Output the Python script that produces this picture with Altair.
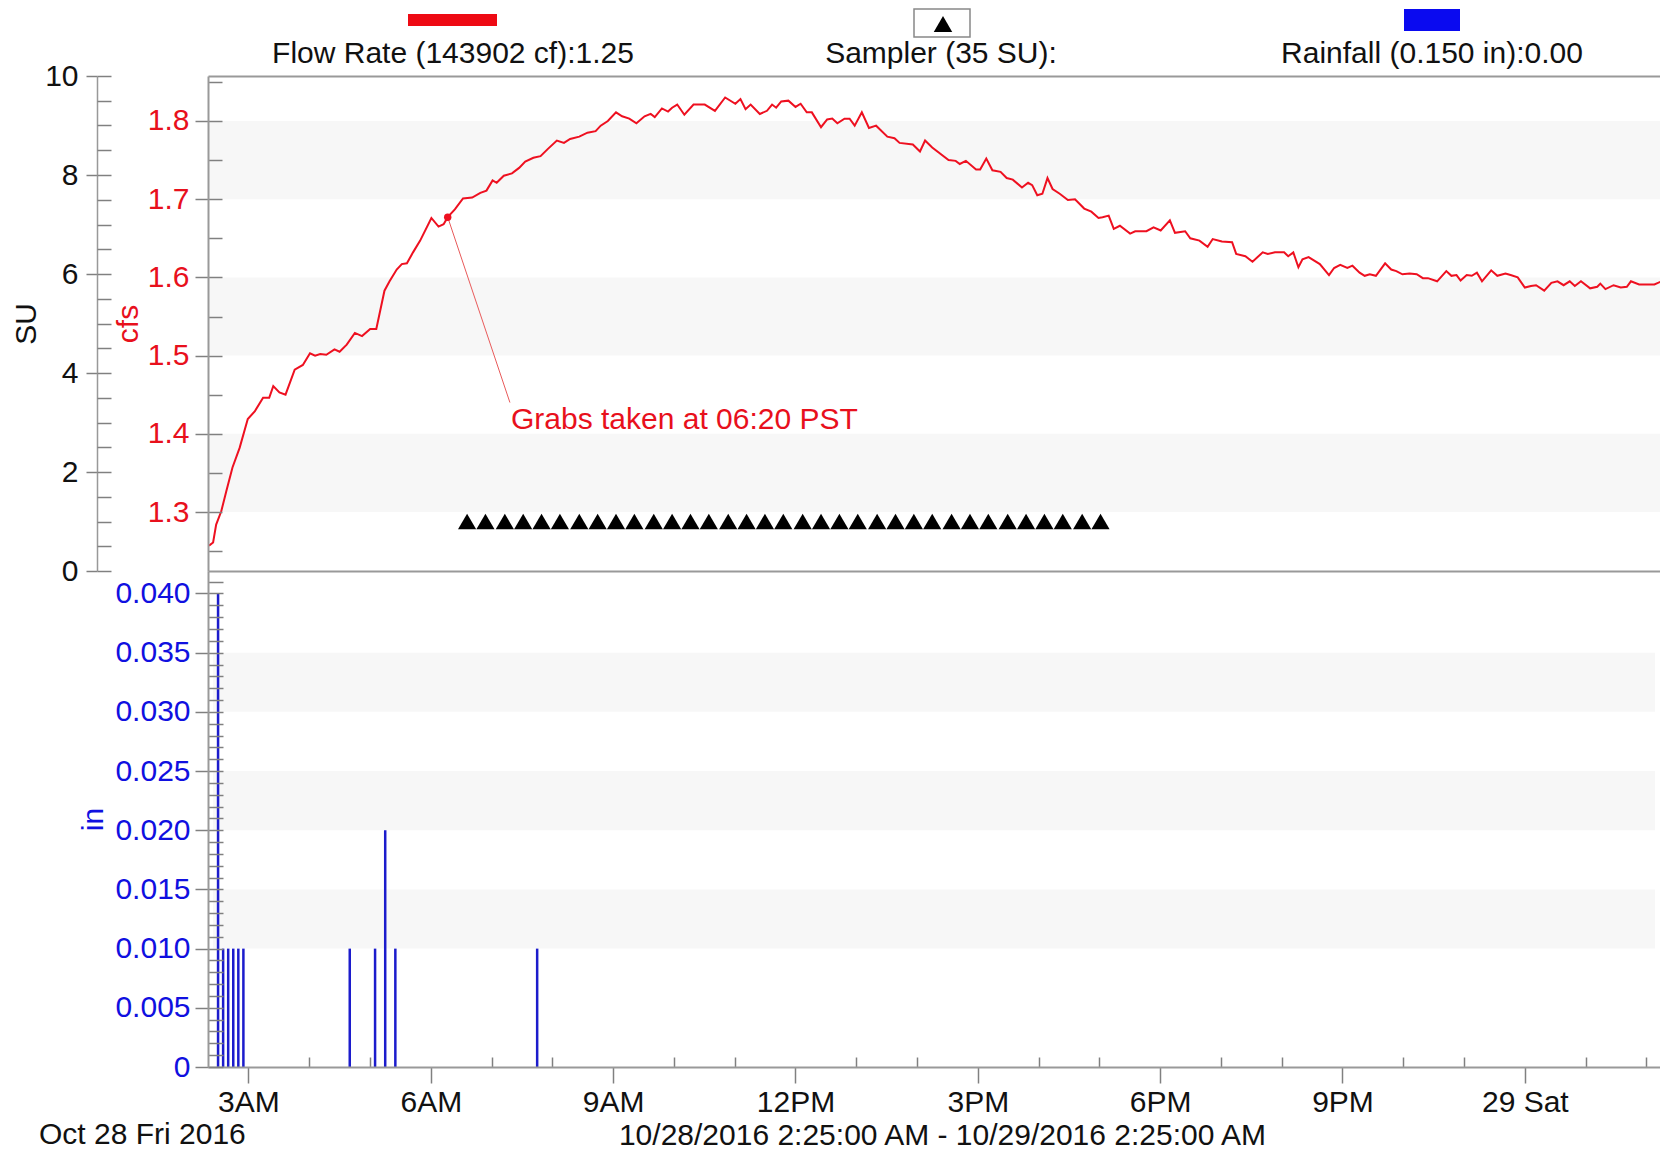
import altair as alt
import pandas as pd

# ---------------- data ----------------
start_time = "2016-10-28 02:25"
end_time = "2016-10-29 02:25"
view_end = "2016-10-29 02:08:30"  # right edge of the visible plot area

# flow rate: minutes after 02:25 and value in cfs
flow_minutes = [1, 5, 8, 13, 18, 24, 31, 39, 46, 54, 60, 64, 70, 76, 85, 93, 100, 105, 110, 116,
                124, 129, 136, 144, 151, 159, 165, 173, 178, 185, 190, 195, 201, 208, 219, 226, 231, 235, 242, 250,
                259, 267, 273, 279, 283, 290, 298, 305, 311, 319, 326, 333, 342, 349, 355, 364, 372, 380,
                385, 392, 400, 406, 413, 420, 428, 434, 438, 445, 451, 455, 460, 467, 476, 487, 497, 507,
                517, 522, 527, 532, 541, 548, 553, 557, 562, 569, 576, 581, 587, 592, 601, 607, 612, 617,
                624, 629, 634, 641, 648, 655, 666, 673, 678, 691, 698, 703, 710, 726, 733, 737, 743, 753,
                757, 763, 769, 777, 783, 789, 798, 804, 808, 813, 818, 823, 828, 835, 843, 850, 859, 866, 873,
                877, 883, 888, 894, 904, 909, 920, 927, 934, 943, 948, 958, 963, 972, 980, 985, 994, 1004,
                1008, 1017, 1024, 1034, 1039, 1046, 1055, 1059, 1064, 1069, 1073, 1079, 1090, 1099, 1104,
                1110, 1117, 1122, 1129, 1134, 1139, 1145, 1154, 1160, 1165, 1171, 1178, 1185, 1191, 1196,
                1205, 1214, 1219, 1224, 1228, 1234, 1239, 1244, 1249, 1258, 1264, 1272, 1277, 1284, 1291,
                1297, 1302, 1310, 1317, 1323, 1329, 1335, 1340, 1346, 1355, 1362, 1365, 1370, 1378, 1385,
                1391, 1395, 1403, 1418, 1425, 1432, 1438, 1440]
flow_cfs = [1.257, 1.261, 1.284, 1.301, 1.327, 1.357, 1.382, 1.419, 1.429, 1.446, 1.446, 1.461, 1.453, 1.450,
            1.482, 1.488, 1.503, 1.500, 1.502, 1.501, 1.508, 1.505, 1.514, 1.529, 1.525, 1.534, 1.534, 1.583,
            1.595, 1.610, 1.617, 1.618, 1.632, 1.647, 1.676, 1.665, 1.668, 1.677, 1.687, 1.701, 1.702, 1.708,
            1.711, 1.724, 1.721, 1.730, 1.733, 1.740, 1.748, 1.753, 1.755, 1.764, 1.775, 1.772, 1.777, 1.780,
            1.785, 1.787,
            1.794, 1.800, 1.811, 1.806, 1.803, 1.797, 1.806, 1.809, 1.805, 1.816, 1.812, 1.817, 1.821, 1.808,
            1.821, 1.821, 1.813, 1.830, 1.822, 1.828, 1.815, 1.821, 1.809, 1.813, 1.821, 1.817, 1.825, 1.826,
            1.818, 1.822, 1.811, 1.811, 1.792, 1.802, 1.803, 1.797, 1.803, 1.803, 1.794, 1.811, 1.791, 1.794,
            1.780, 1.778, 1.772, 1.770, 1.761, 1.775, 1.766, 1.750, 1.749, 1.745, 1.749, 1.738, 1.738, 1.752,
            1.737, 1.735, 1.727, 1.725, 1.715, 1.721, 1.718, 1.705, 1.707, 1.727, 1.713, 1.707, 1.699, 1.700,
            1.688, 1.684, 1.676,
            1.677, 1.679, 1.662, 1.666, 1.656, 1.659, 1.659, 1.664, 1.660, 1.673, 1.657, 1.659, 1.650, 1.647,
            1.639, 1.649, 1.646, 1.645, 1.630, 1.627, 1.620, 1.632, 1.630, 1.632, 1.632, 1.627, 1.632, 1.613,
            1.623, 1.626, 1.617, 1.603, 1.612, 1.616, 1.612, 1.615, 1.606, 1.602, 1.604, 1.602, 1.618, 1.610,
            1.608, 1.604, 1.605, 1.604, 1.599, 1.599, 1.595, 1.608, 1.602, 1.603, 1.596, 1.603, 1.602, 1.606,
            1.595, 1.609, 1.602, 1.605, 1.603, 1.600, 1.587, 1.589, 1.590, 1.583, 1.593, 1.595, 1.590, 1.595,
            1.589, 1.595, 1.586, 1.588, 1.592, 1.585, 1.590, 1.587, 1.588, 1.595, 1.591, 1.591, 1.595, 1.587,
            1.588, 1.590]

rain_times = ["2016-10-28 02:30", "2016-10-28 02:35", "2016-10-28 02:40", "2016-10-28 02:45",
              "2016-10-28 02:50", "2016-10-28 02:55", "2016-10-28 04:40", "2016-10-28 05:05",
              "2016-10-28 05:15", "2016-10-28 05:25", "2016-10-28 07:45"]
rain_inches = [0.040, 0.010, 0.010, 0.010, 0.010, 0.010, 0.010, 0.010, 0.020, 0.010, 0.010]

sampler_clock = ["06:39", "06:57", "07:16", "07:34", "07:52", "08:10", "08:29", "08:47", "09:05",
                 "09:23", "09:42", "10:00", "10:18", "10:36", "10:55", "11:13", "11:31", "11:49",
                 "12:08", "12:26", "12:44", "13:02", "13:21", "13:39", "13:57", "14:15", "14:34",
                 "14:52", "15:10", "15:29", "15:47", "16:05", "16:23", "16:42", "17:00"]
sampler_level = 1.0  # SU

grab_time = "2016-10-28 06:20"
grab_cfs = 1.677
note_end_time = "2016-10-28 07:21"
note_end_cfs = 1.440
note_text_time = "2016-10-28 07:22"
note_text_cfs = 1.418
note_text = "Grabs taken at 06:20 PST"

band_top_lo = [1.3, 1.5, 1.7]
band_top_hi = [1.4, 1.6, 1.8]
band_bot_lo = [0.010, 0.020, 0.030]
band_bot_hi = [0.015, 0.025, 0.035]

cfs_domain = [1.2246, 1.8575]
su_domain = [0, 10]
rain_domain = [0, 0.0419]

cfs_ticks = [1.3, 1.4, 1.5, 1.6, 1.7, 1.8]
cfs_minor = [1.25, 1.3, 1.35, 1.4, 1.45, 1.5, 1.55, 1.6, 1.65, 1.7, 1.75, 1.8, 1.85]
su_ticks = [0, 2, 4, 6, 8, 10]
su_minor = [0, 0.5, 1, 1.5, 2, 2.5, 3, 3.5, 4, 4.5, 5, 5.5, 6, 6.5, 7, 7.5, 8, 8.5, 9, 9.5, 10]
rain_ticks = [0, 0.005, 0.010, 0.015, 0.020, 0.025, 0.030, 0.035, 0.040]
rain_minor = [round(i * 0.001, 3) for i in range(42)]
hour_major = ["2016-10-28 03:00", "2016-10-28 06:00", "2016-10-28 09:00", "2016-10-28 12:00",
              "2016-10-28 15:00", "2016-10-28 18:00", "2016-10-28 21:00", "2016-10-29 00:00"]
hour_minor = ["2016-10-28 04:00", "2016-10-28 05:00", "2016-10-28 07:00", "2016-10-28 08:00",
              "2016-10-28 10:00", "2016-10-28 11:00", "2016-10-28 13:00", "2016-10-28 14:00",
              "2016-10-28 16:00", "2016-10-28 17:00", "2016-10-28 19:00", "2016-10-28 20:00",
              "2016-10-28 22:00", "2016-10-28 23:00", "2016-10-29 01:00", "2016-10-29 02:00"]

legend_labels = ["Flow Rate (143902 cf):1.25", "Sampler (35 SU):", "Rainfall (0.150 in):0.00"]
range_title = "10/28/2016 2:25:00 AM - 10/29/2016 2:25:00 AM"
date_label = "Oct 28 Fri 2016"

# ---------------- tables ----------------
base = pd.Timestamp(start_time)
flow_df = pd.DataFrame({"t": base + pd.to_timedelta(flow_minutes, unit="m"), "cfs": flow_cfs})
rain_df = pd.DataFrame({"t": pd.to_datetime(rain_times), "rain": rain_inches})
sampler_df = pd.DataFrame({"t": pd.to_datetime(["2016-10-28 " + c for c in sampler_clock]),
                           "su": sampler_level})
note_df = pd.DataFrame({"t0": [pd.Timestamp(grab_time)], "c0": [grab_cfs],
                        "t1": [pd.Timestamp(note_end_time)], "c1": [note_end_cfs],
                        "t2": [pd.Timestamp(note_text_time)], "c2": [note_text_cfs],
                        "label": [note_text]})
band_top_df = pd.DataFrame({"t0": pd.Timestamp(start_time), "t1": pd.Timestamp(view_end),
                            "lo": band_top_lo, "hi": band_top_hi})
band_bot_df = pd.DataFrame({"t0": pd.Timestamp(start_time), "t1": pd.Timestamp(view_end),
                            "lo": band_bot_lo, "hi": band_bot_hi})
one = pd.DataFrame({"k": [0]})


def dt(s):
    p = pd.Timestamp(s)
    return alt.DateTime(year=p.year, month=p.month, date=p.day, hours=p.hour,
                        minutes=p.minute, seconds=p.second)


# ---------------- styles ----------------
FONT = "Liberation Sans"
FS = 30
RED = "#ee1020"
RED_TXT = "#e8101c"
BLUE = "#1c1ccc"
BLUE_TXT = "#1010e0"
GRAY = "#999999"
TICK = "#808080"
BAND = "#f7f7f7"
W, H_TOP, H_BOT = 1452, 495, 496
SU_OFF = 111

xs = alt.Scale(domain=[dt(start_time), dt(view_end)], nice=False)
cfs_scale = alt.Scale(domain=cfs_domain, nice=False, zero=False)
su_scale = alt.Scale(domain=su_domain, nice=False, zero=False)
rain_scale = alt.Scale(domain=rain_domain, nice=False, zero=False)

border_top = alt.Axis(orient="top", ticks=False, labels=False, title=None, grid=False,
                      domainColor=GRAY, domainWidth=2, zindex=2)
border_bottom = alt.Axis(orient="bottom", ticks=False, labels=False, title=None, grid=False,
                         domainColor=GRAY, domainWidth=2, zindex=2)

cfs_axis = alt.Axis(orient="left", values=cfs_ticks, format=".1f", grid=False,
                    labelColor=RED_TXT, labelFontSize=FS, labelPadding=6,
                    tickSize=13, tickColor=TICK, tickWidth=1.5,
                    domainColor=GRAY, domainWidth=2, zindex=2,
                    title="cfs", titleColor=RED_TXT, titleFontSize=FS, titleFontWeight="normal",
                    titleAngle=270, titleAlign="center", titleBaseline="middle", titleX=-80)
cfs_inner = alt.Axis(orient="right", offset=-W, values=cfs_minor, labels=False, domain=False,
                     grid=False, title=None, tickSize=14, tickColor=TICK, tickWidth=1.5, zindex=2)
su_axis = alt.Axis(orient="left", offset=SU_OFF, values=su_ticks, format="d", grid=False,
                   labelColor="#111111", labelFontSize=FS, labelPadding=8,
                   tickSize=11, tickColor=TICK, tickWidth=1.5,
                   domainColor=GRAY, domainWidth=1.5, zindex=2,
                   title="SU", titleColor="#111111", titleFontSize=FS, titleFontWeight="normal",
                   titleAngle=270, titleAlign="center", titleBaseline="middle", titleX=-71)
su_inner = alt.Axis(orient="right", offset=-(W + SU_OFF), values=su_minor, labels=False,
                    domain=False, grid=False, title=None, tickSize=14, tickColor=TICK,
                    tickWidth=1.5, zindex=2)
rain_axis = alt.Axis(orient="left", values=rain_ticks, grid=False,
                     labelExpr="datum.value == 0 ? '0' : format(datum.value, '.3f')",
                     labelColor=BLUE_TXT, labelFontSize=FS, labelPadding=5,
                     tickSize=13, tickColor=TICK, tickWidth=1.5,
                     domainColor=GRAY, domainWidth=2, zindex=2,
                     title="in", titleColor=BLUE_TXT, titleFontSize=FS, titleFontWeight="normal",
                     titleAngle=270, titleAlign="center", titleBaseline="middle", titleX=-115)
rain_inner = alt.Axis(orient="right", offset=-W, values=rain_minor, labels=False, domain=False,
                      grid=False, title=None, tickSize=15, tickColor=TICK, tickWidth=1.5, zindex=2)
time_axis = alt.Axis(orient="bottom", values=[dt(h) for h in hour_major], grid=False,
                     labelExpr="hours(datum.value) == 0 ? timeFormat(datum.value, '%-d %a') : timeFormat(datum.value, '%-I%p')",
                     labelColor="#111111", labelFontSize=FS, labelPadding=4, labelFlush=False,
                     tickSize=16, tickColor=TICK, tickWidth=1.5,
                     domainColor=GRAY, domainWidth=2, zindex=2,
                     title=range_title, titleColor="#111111", titleFontSize=FS,
                     titleFontWeight="normal", titleBaseline="middle", titleY=68,
                     titleX=734)
time_minor = alt.Axis(orient="top", offset=-H_BOT, values=[dt(h) for h in hour_minor],
                      labels=False, domain=False, grid=False, title=None,
                      tickSize=10, tickColor=TICK, tickWidth=1.5, zindex=2)

# ---------------- top panel ----------------
bands_top = alt.Chart(band_top_df).mark_rect(color=BAND).encode(
    x=alt.X("t0:T", scale=xs, axis=border_top), x2="t1:T",
    y=alt.Y("lo:Q", scale=cfs_scale, axis=cfs_inner), y2="hi:Q")

flow_line = alt.Chart(flow_df).mark_line(color=RED, strokeWidth=2, clip=True).encode(
    x=alt.X("t:T", scale=xs, axis=border_bottom),
    y=alt.Y("cfs:Q", scale=cfs_scale, axis=cfs_axis))

note_rule = alt.Chart(note_df).mark_rule(color="#e85a5a", strokeWidth=1).encode(
    x=alt.X("t0:T", scale=xs, axis=None), x2="t1:T",
    y=alt.Y("c0:Q", scale=cfs_scale, axis=None), y2="c1:Q")

grab_point = alt.Chart(note_df).mark_point(filled=True, color=RED, size=55, opacity=1).encode(
    x=alt.X("t0:T", scale=xs, axis=None),
    y=alt.Y("c0:Q", scale=cfs_scale, axis=None))

note_label = alt.Chart(note_df).mark_text(align="left", baseline="middle", font=FONT,
                                          fontSize=FS, color=RED_TXT).encode(
    x=alt.X("t2:T", scale=xs, axis=None),
    y=alt.Y("c2:Q", scale=cfs_scale, axis=None),
    text="label:N")

triangles = alt.Chart(sampler_df).mark_point(shape="triangle-up", filled=True, color="black",
                                             size=330, opacity=1).encode(
    x=alt.X("t:T", scale=xs, axis=None),
    y=alt.Y("su:Q", scale=su_scale, axis=su_axis))

su_ticks_layer = alt.Chart(sampler_df).mark_point(opacity=0).encode(
    x=alt.X("t:T", scale=xs, axis=None),
    y=alt.Y("su:Q", scale=su_scale, axis=su_inner))

leg_flow_swatch = alt.Chart(one).mark_rect(color="#ee0a14").encode(
    x=alt.value(200), x2=alt.value(289), y=alt.value(-62), y2=alt.value(-50))
leg_flow_text = alt.Chart(one).mark_text(font=FONT, fontSize=FS, color="#111111",
                                         align="center", baseline="middle").encode(
    x=alt.value(245), y=alt.value(-22), text=alt.value(legend_labels[0]))
leg_samp_box = alt.Chart(one).mark_rect(fill="white", stroke="#888888", strokeWidth=1.5).encode(
    x=alt.value(706), x2=alt.value(762), y=alt.value(-67), y2=alt.value(-39))
leg_samp_tri = alt.Chart(one).mark_point(shape="triangle-up", filled=True, color="black",
                                         size=340, opacity=1).encode(
    x=alt.value(735), y=alt.value(-52))
leg_samp_text = alt.Chart(one).mark_text(font=FONT, fontSize=FS, color="#111111",
                                         align="center", baseline="middle").encode(
    x=alt.value(733), y=alt.value(-22), text=alt.value(legend_labels[1]))
leg_rain_swatch = alt.Chart(one).mark_rect(color="#0a0af0").encode(
    x=alt.value(1196), x2=alt.value(1252), y=alt.value(-67), y2=alt.value(-45))
leg_rain_text = alt.Chart(one).mark_text(font=FONT, fontSize=FS, color="#111111",
                                         align="center", baseline="middle").encode(
    x=alt.value(1224), y=alt.value(-22), text=alt.value(legend_labels[2]))

top = alt.layer(
    bands_top, flow_line, note_rule, grab_point, note_label, triangles, su_ticks_layer,
    leg_flow_swatch, leg_flow_text, leg_samp_box, leg_samp_tri, leg_samp_text,
    leg_rain_swatch, leg_rain_text,
).resolve_scale(y="independent").resolve_axis(x="independent", y="independent").properties(
    width=W, height=H_TOP)

# ---------------- bottom panel ----------------
bands_bot = alt.Chart(band_bot_df).mark_rect(color=BAND).encode(
    x=alt.X("t0:T", scale=xs, axis=time_minor), x2="t1:T",
    y=alt.Y("lo:Q", scale=rain_scale, axis=rain_inner), y2="hi:Q")

rain_bars = alt.Chart(rain_df).mark_bar(color=BLUE, size=2.5).encode(
    x=alt.X("t:T", scale=xs, axis=time_axis),
    y=alt.Y("rain:Q", scale=rain_scale, axis=rain_axis))

date_text = alt.Chart(one).mark_text(font=FONT, fontSize=FS, color="#111111",
                                     align="left", baseline="middle").encode(
    x=alt.value(-169), y=alt.value(564), text=alt.value(date_label))

bottom = alt.layer(bands_bot, rain_bars, date_text).resolve_scale(
    y="independent").resolve_axis(x="independent", y="independent").properties(
    width=W, height=H_BOT)

chart = alt.vconcat(top, bottom, spacing=0, bounds="flush").properties(
    padding={"left": 3, "top": 0, "right": 0, "bottom": 0}
).configure_view(strokeWidth=0).configure_axis(labelFont=FONT, titleFont=FONT)

chart.save("out.html", embed_options={"renderer": "svg", "actions": False})
